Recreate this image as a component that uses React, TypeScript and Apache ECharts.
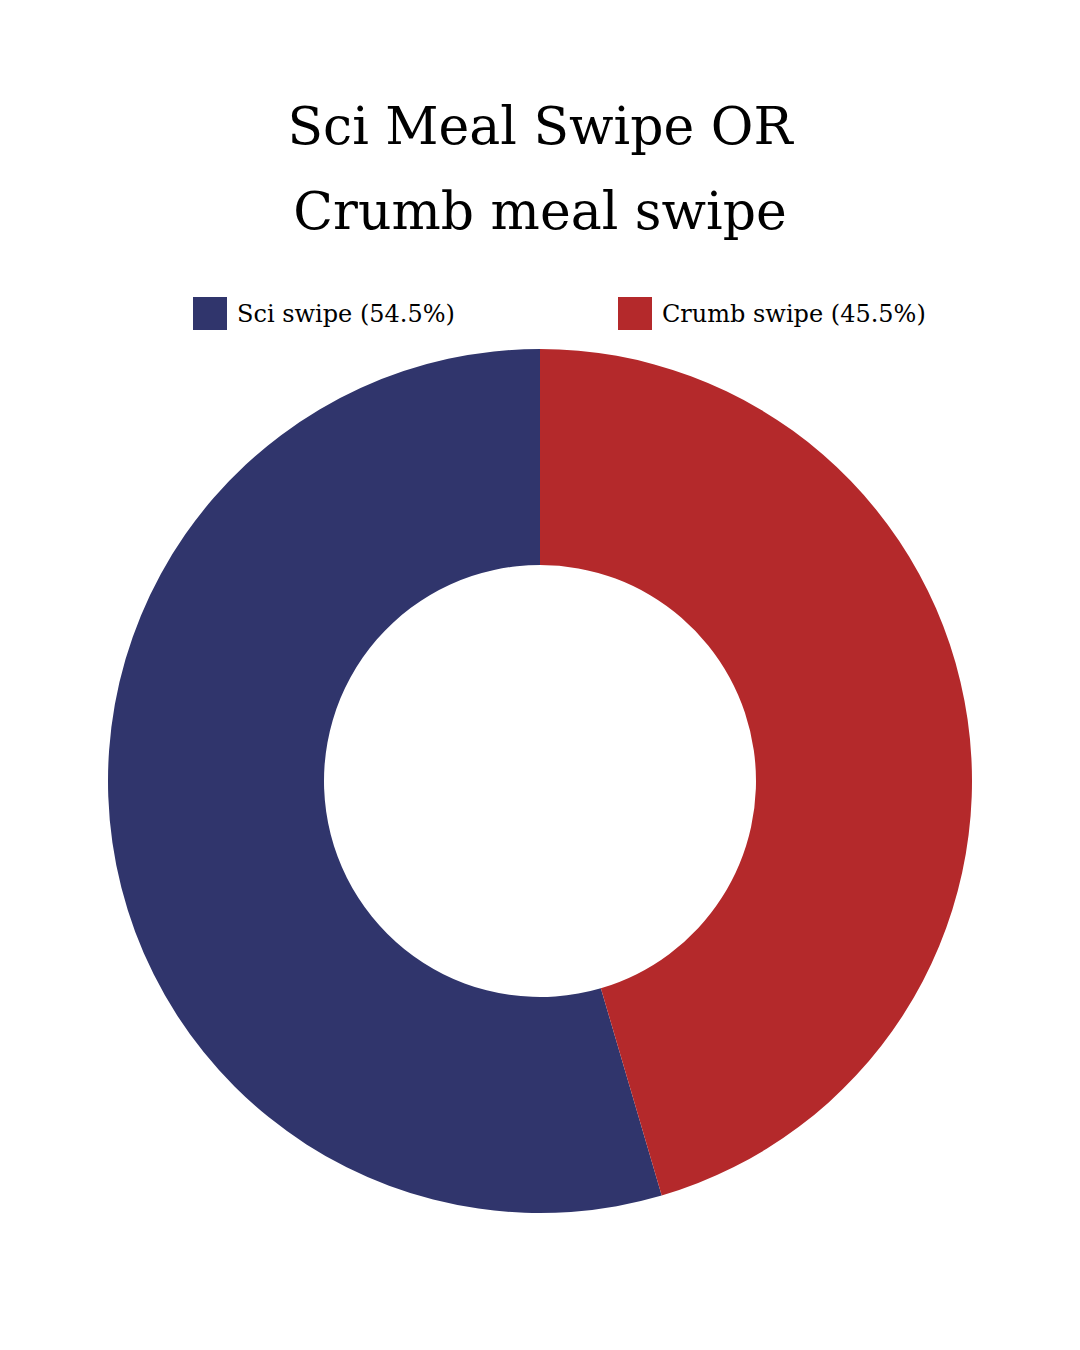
import React, { useEffect, useRef } from "react";
import * as echarts from "echarts";

const titleLines = ["Sci Meal Swipe OR", "Crumb meal swipe"];
const categories = ["Sci swipe", "Crumb swipe"];
const values = [6, 5];
const percentLabels = ["54.5%", "45.5%"];
const colors = ["#30356C", "#B4292B"];

const FONT = "'DejaVu Serif', 'Liberation Serif', serif";

export default function App() {
  const ref = useRef<HTMLDivElement>(null);
  useEffect(() => {
    document.body.style.margin = "0";
    const chart = echarts.init(ref.current!, null, { renderer: "svg" });
    chart.setOption({
      animation: false,
      backgroundColor: "#ffffff",
      title: {
        text: titleLines.join("\n"),
        left: "center",
        top: 78,
        textStyle: {
          fontFamily: FONT,
          fontWeight: "normal",
          fontSize: 52,
          lineHeight: 85,
          color: "#000000",
        },
      },
      legend: categories.map((c, i) => ({
        data: [c],
        left: i === 0 ? 193 : 618,
        top: 297,
        padding: 0,
        itemWidth: 34,
        itemHeight: 33,
        icon: "rect",
        formatter: (name: string) => `${name} (${percentLabels[categories.indexOf(name)]})`,
        textStyle: { fontFamily: FONT, fontSize: 24, color: "#000000", padding: [0, 0, 0, 5] },
      })),
      series: [
        {
          type: "pie",
          center: [540, 781],
          radius: [216, 432],
          clockwise: false,
          startAngle: 90,
          label: { show: false },
          labelLine: { show: false },
          data: categories.map((c, i) => ({
            name: c,
            value: values[i],
            itemStyle: { color: colors[i] },
          })),
        },
      ],
    });
    return () => chart.dispose();
  }, []);
  return <div ref={ref} style={{ position: "absolute", left: 0, top: 0, width: 1080, height: 1350 }} />;
}
